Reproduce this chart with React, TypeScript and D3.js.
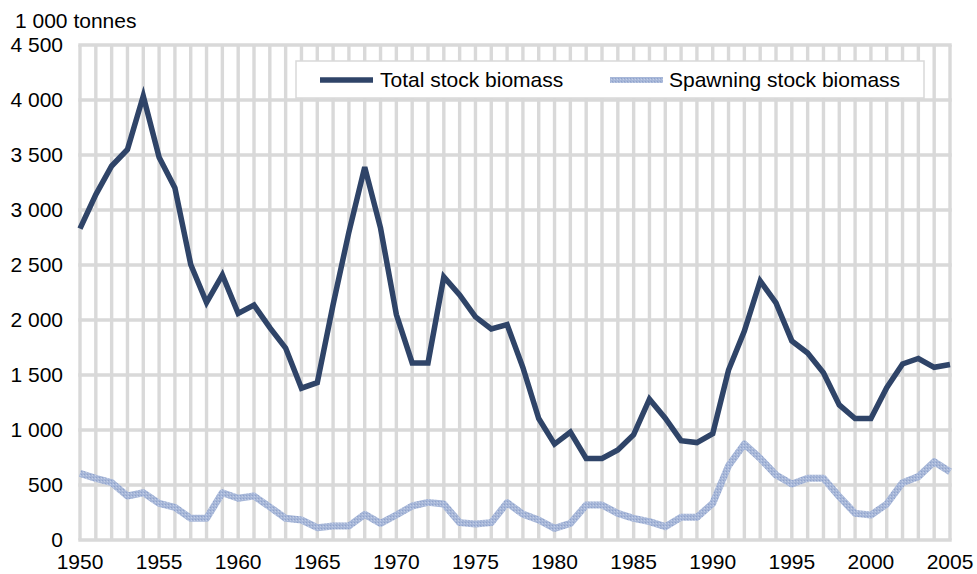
import React from "react";
import * as d3 from "d3";

const years: number[] = d3.range(1950, 2006);

const totalStock: number[] = [
  2830, 3140, 3400, 3550, 4036, 3480, 3200, 2505, 2158, 2410,
  2060, 2135, 1930, 1745, 1380, 1430, 2140, 2800, 3390, 2835,
  2050, 1610, 1610, 2392, 2228, 2028, 1918, 1958, 1568, 1104,
  872, 982, 742, 742, 818, 958, 1280, 1108, 903, 886,
  966, 1545, 1900, 2355, 2155, 1810, 1700, 1520, 1228, 1104,
  1104, 1385, 1600, 1650, 1570, 1595,
];

const spawningStock: number[] = [
  606, 560, 521, 400, 430, 333, 297, 197, 197, 430,
  379, 400, 300, 197, 182, 112, 127, 127, 233, 151,
  227, 309, 342, 327, 158, 145, 158, 339, 235, 182,
  106, 151, 318, 318, 242, 197, 167, 121, 206, 206,
  333, 675, 873, 742, 591, 509, 561, 561, 394, 242,
  227, 327, 521, 576, 712, 621,
];

const yTicks: number[] = [0, 500, 1000, 1500, 2000, 2500, 3000, 3500, 4000, 4500];
const xTickYears: number[] = [1950, 1955, 1960, 1965, 1970, 1975, 1980, 1985, 1990, 1995, 2000, 2005];

const seriesNames: string[] = ["Total stock biomass", "Spawning stock biomass"];
const unitLabel = "1 000 tonnes";

const fmt = (v: number) => d3.format(",")(v).replace(/,/g, " ");

export default function App() {
  const W = 977;
  const H = 574;
  const x = d3.scaleLinear().domain([1950, 2005]).range([80, 950]);
  const y = d3.scaleLinear().domain([0, 4500]).range([540, 45]);
  const grid = "#d9d9d9";
  const navy = "#2f4468";
  const light = "#a7b7d8";
  const font = "'Liberation Sans', Arial, sans-serif";
  const fs = 21;

  const lineGen = d3
    .line<number>()
    .x((_, i) => x(years[i]))
    .y((d) => y(d));

  return (
    <div style={{ position: "absolute", left: 0, top: 0 }}>
      <svg width={W} height={H} style={{ display: "block", background: "#fff" }} fontFamily={font}>
        <defs>
          <pattern id="speck" width="3" height="3" patternUnits="userSpaceOnUse">
            <rect width="3" height="3" fill={light} />
            <rect x="0" y="0" width="1" height="1" fill="#8fa2cc" />
            <rect x="2" y="1" width="1" height="1" fill="#c2cde6" />
          </pattern>
        </defs>
        {/* vertical gridlines */}
        {years.map((yr) => (
          <line key={"v" + yr} x1={x(yr)} x2={x(yr)} y1={y(4500)} y2={y(0)} stroke={grid} strokeWidth={3.4} />
        ))}
        {/* horizontal gridlines */}
        {yTicks.map((t) => (
          <line key={"h" + t} x1={x(1950) - 1.7} x2={x(2005) + 1.7} y1={y(t)} y2={y(t)} stroke={grid} strokeWidth={3.4} />
        ))}
        {/* y tick labels */}
        {yTicks.map((t) => (
          <text key={"yl" + t} x={63} y={y(t)} dy="0.35em" textAnchor="end" fontSize={fs} fill="#000">
            {fmt(t)}
          </text>
        ))}
        {/* x tick labels */}
        {xTickYears.map((yr) => (
          <text key={"xl" + yr} x={x(yr)} y={569} textAnchor="middle" fontSize={fs} fill="#000">
            {yr}
          </text>
        ))}
        <text x={15} y={28} fontSize={fs} fill="#000">
          {unitLabel}
        </text>
        {/* series */}
        <path d={lineGen(spawningStock) || ""} fill="none" stroke="url(#speck)" strokeWidth={7} strokeLinejoin="round" />
        <path d={lineGen(totalStock) || ""} fill="none" stroke={navy} strokeWidth={5.5} strokeLinejoin="miter" />
        {/* legend */}
        <rect x={296} y={61} width={628} height={37} fill="#fff" stroke={grid} strokeWidth={1.5} />
        <line x1={320} x2={373} y1={80} y2={80} stroke={navy} strokeWidth={5.5} />
        <text x={380} y={80} dy="0.35em" fontSize={fs} fill="#000">
          {seriesNames[0]}
        </text>
        <rect x={610} y={77} width={53} height={6} fill="url(#speck)" />
        <text x={669} y={80} dy="0.35em" fontSize={fs} fill="#000">
          {seriesNames[1]}
        </text>
      </svg>
    </div>
  );
}
